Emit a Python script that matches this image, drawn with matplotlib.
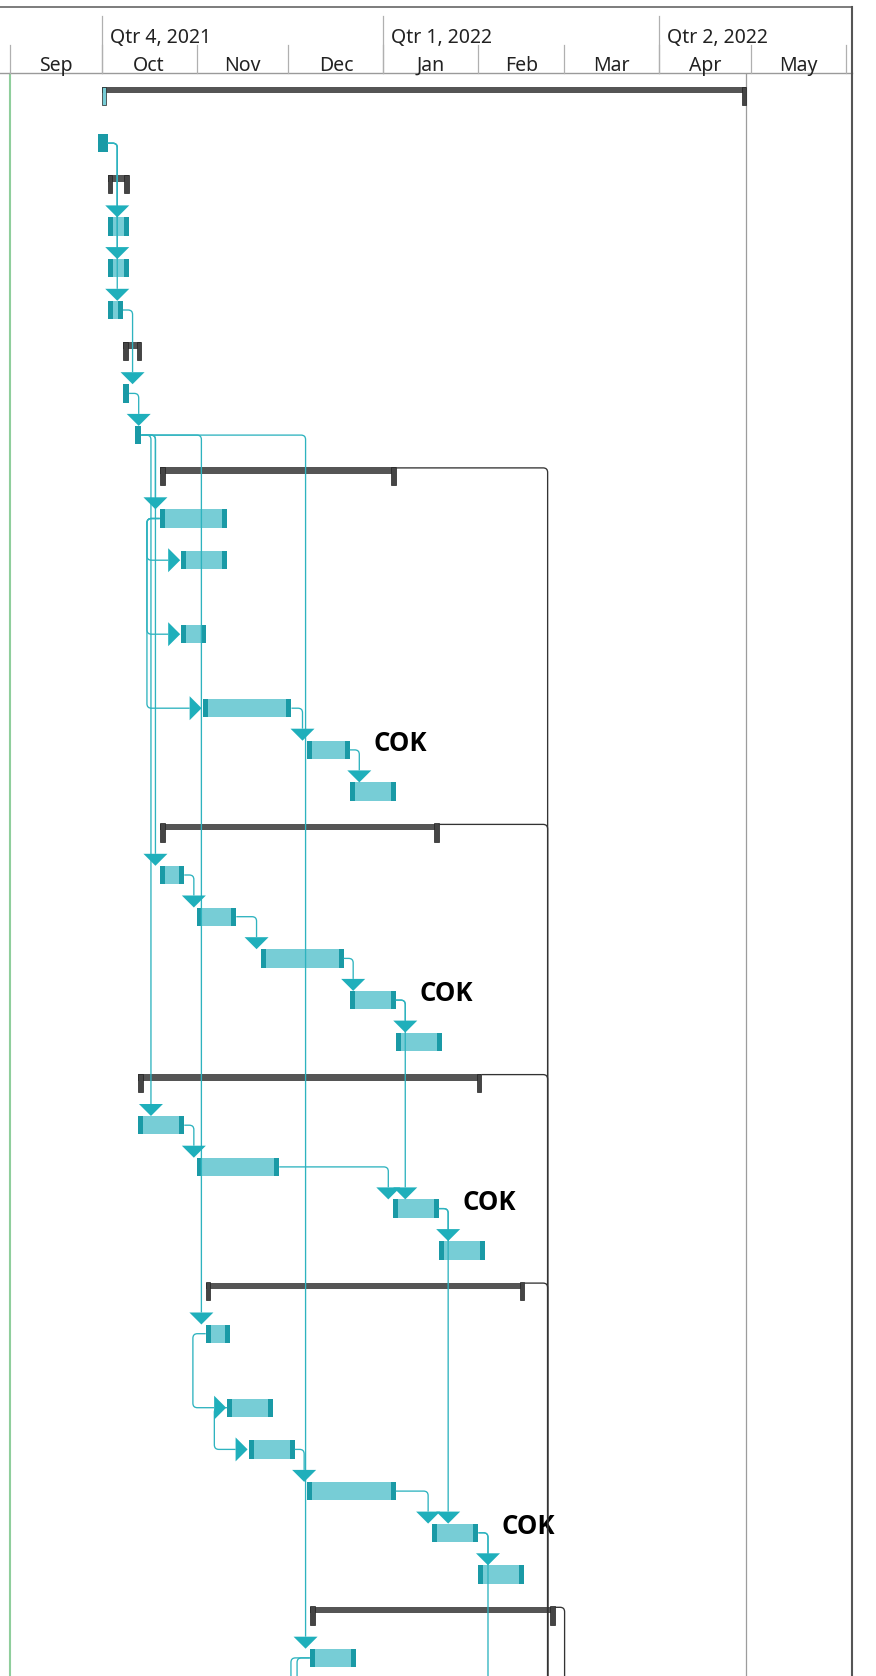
import matplotlib
matplotlib.use("Agg")
import matplotlib.pyplot as plt
import matplotlib.dates as mdates
from matplotlib.patches import Rectangle, Polygon, PathPatch
from matplotlib.path import Path
import numpy as np
import pandas as pd

plt.rcParams['font.family'] = ['Noto Sans', 'DejaVu Sans']

# ---- timescale ----
quarter_labels = ["Qtr 4, 2021", "Qtr 1, 2022", "Qtr 2, 2022"]
quarter_starts = ["2021-10-01", "2022-01-01", "2022-04-01"]
month_labels = ["Sep", "Oct", "Nov", "Dec", "Jan", "Feb", "Mar", "Apr", "May"]
month_starts = ["2021-09-01", "2021-10-01", "2021-11-01", "2021-12-01", "2022-01-01",
                "2022-02-01", "2022-03-01", "2022-04-01", "2022-05-01", "2022-06-01"]

# ---- tasks (S = summary, T = task), one per row ----
kinds = ["S", "T", "S", "T", "T", "T", "S", "T", "T",
         "S", "T", "T", "T", "T", "T", "T",
         "S", "T", "T", "T", "T", "T",
         "S", "T", "T", "T", "T",
         "S", "T", "T", "T", "T", "T", "T",
         "S", "T",
         "T", "T", "T", "T"]
starts = ["2021-10-01", "2021-09-30", "2021-10-03", "2021-10-03", "2021-10-03", "2021-10-03",
          "2021-10-08", "2021-10-08", "2021-10-12",
          "2021-10-20", "2021-10-20", "2021-10-27", "2021-10-27", "2021-11-03", "2021-12-07", "2021-12-21",
          "2021-10-20", "2021-10-20", "2021-11-01", "2021-11-22", "2021-12-21", "2022-01-05",
          "2021-10-13", "2021-10-13", "2021-11-01", "2022-01-04", "2022-01-19",
          "2021-11-04", "2021-11-04", "2021-11-11", "2021-11-18", "2021-12-07", "2022-01-17", "2022-02-01",
          "2021-12-08", "2021-12-08",
          "2021-12-06", "2021-12-08", "2022-02-01", "2022-02-25"]
finishes = ["2022-04-29 12:00", "2021-10-03", "2021-10-10", "2021-10-10", "2021-10-10", "2021-10-08",
            "2021-10-14", "2021-10-10", "2021-10-14",
            "2022-01-05", "2021-11-11", "2021-11-11", "2021-11-04", "2021-12-02", "2021-12-21", "2022-01-05",
            "2022-01-19", "2021-10-28", "2021-11-14", "2021-12-19", "2022-01-05", "2022-01-20",
            "2022-02-02", "2021-10-28", "2021-11-28", "2022-01-19", "2022-02-03",
            "2022-02-16", "2021-11-12", "2021-11-26", "2021-12-03", "2022-01-05", "2022-02-01", "2022-02-16",
            "2022-02-26", "2021-12-23",
            "2021-12-21", "2021-12-22", "2022-02-16", "2022-03-11"]
resources = {14: "COK", 20: "COK", 25: "COK", 32: "COK"}

# finish-to-start and start-to-start links (pred row, succ row)
fs_links = [(1, 3), (1, 4), (1, 5), (5, 7), (7, 8),
            (8, 10), (8, 17), (8, 23), (8, 28), (8, 35),
            (13, 14), (14, 15),
            (17, 18), (18, 19), (19, 20), (20, 21), (20, 25),
            (23, 24), (24, 25), (25, 26), (25, 32),
            (30, 31), (31, 32), (32, 33), (32, 38),
            (9, 39), (16, 39), (22, 39), (27, 39), (34, 39)]
ss_links = [(10, 11), (10, 12), (10, 13), (28, 29), (29, 30), (35, 36), (35, 37)]

status_date = "2021-09-01"
finish_line = "2022-04-29 12:00"

# ---- layout (pixels) ----
W, H = 876, 1676
PPD = 3.064  # pixels per day
row_h = [41.7] * len(kinds)
row_h[0] = 46.7
for r in (11, 12, 28):
    row_h[r] = 74
row_h[35] = 170
tops = 75.65 + np.concatenate([[0], np.cumsum(row_h)[:-1]])
yc = tops + 20.85

TEAL = "#77CDD6"
TEAL_D = "#1A9AA6"
LINK = "#2EB3BF"
ARROW = "#1FAFBB"


def dn(s):
    return mdates.date2num(pd.Timestamp(s))


def d(px):
    return px / PPD


S = [dn(s) for s in starts]
F = [dn(f) for f in finishes]
x0 = dn(month_starts[0]) - d(9.6)


def xpx(p):
    return x0 + d(p)


fig = plt.figure(figsize=(W / 100, H / 100), dpi=100)
ax = fig.add_axes([0, 0, 1, 1])
ax.set_xlim(x0, x0 + d(W))
ax.set_ylim(H, 0)
ax.axis("off")


def rounded(pts, color, r=4.5, lw=1.0, z=3):
    # pts in (date, px) coords; corners rounded in pixel space
    P = [np.array([(x - x0) * PPD, y]) for x, y in pts]
    clean = [P[0]]
    for p in P[1:]:
        if np.linalg.norm(p - clean[-1]) > 0.01:
            clean.append(p)
    verts, codes = [clean[0]], [Path.MOVETO]
    for i in range(1, len(clean) - 1):
        a, p, b = clean[i - 1], clean[i], clean[i + 1]
        u1 = (p - a) / np.linalg.norm(p - a)
        u2 = (b - p) / np.linalg.norm(b - p)
        rr = min(r, np.linalg.norm(p - a) / 2, np.linalg.norm(b - p) / 2)
        verts += [p - u1 * rr, p, p + u2 * rr]
        codes += [Path.LINETO, Path.CURVE3, Path.CURVE3]
    verts.append(clean[-1])
    codes.append(Path.LINETO)
    verts = [(x0 + v[0] / PPD, v[1]) for v in verts]
    ax.add_patch(PathPatch(Path(verts, codes), fill=False, ec=color, lw=lw, zorder=z,
                           capstyle="butt", joinstyle="round"))


# ---- header ----
ax.plot([xpx(0), xpx(852)], [7.5, 7.5], color="#666666", lw=1.2)
ax.plot([xpx(0), xpx(852)], [73, 73], color="#9a9a9a", lw=1.0)
ax.plot([xpx(852), xpx(852)], [7.5, H], color="#555555", lw=1.5, zorder=6)
for q, lab in zip(quarter_starts, quarter_labels):
    ax.plot([dn(q), dn(q)], [16, 73], color="#b0b0b0", lw=0.9)
    ax.text(dn(q) + d(8), 43.3, lab, fontsize=14, color="#222222", ha="left", va="baseline")
for m in month_starts:
    ax.plot([dn(m), dn(m)], [45, 73], color="#b0b0b0", lw=0.9)
for i, lab in enumerate(month_labels):
    mid = (dn(month_starts[i]) + dn(month_starts[i + 1])) / 2
    ax.text(mid, 70.7, lab, fontsize=14, color="#222222", ha="center", va="baseline")

ax.plot([dn(status_date)] * 2, [74, H], color="#8fce9c", lw=1.5, zorder=1)
ax.plot([dn(finish_line)] * 2, [74, H], color="#9c9c9c", lw=0.9, zorder=1)

# ---- bars ----
BH = 18.4
CW = 5.0
for i, k in enumerate(kinds):
    s, f, y = S[i], F[i], yc[i]
    if k == "T":
        ax.add_patch(Rectangle((s, y - BH / 2), f - s, BH, fc=TEAL, ec="none", zorder=2))
        ax.add_patch(Rectangle((s, y - BH / 2), d(CW), BH, fc=TEAL_D, ec="none", zorder=2))
        ax.add_patch(Rectangle((f - d(CW), y - BH / 2), d(CW), BH, fc=TEAL_D, ec="none", zorder=2))
    else:
        top = y - 9.4
        ax.add_patch(Rectangle((s, top), f - s, 6.4, fc="#555555", ec="none", zorder=2))
        lc = TEAL if i == 0 else "#454545"
        ax.add_patch(Rectangle((s, top - 0.5), d(4.8), 18.2, fc=lc, ec="#222222", lw=0.5, zorder=2))
        ax.add_patch(Rectangle((f - d(4.8), top - 0.5), d(4.8), 18.2, fc="#454545", ec="#222222",
                               lw=0.5, zorder=2))
    if i in resources:
        ax.text(f + d(23.5), y - 6.4, resources[i], fontsize=18.5, fontweight="bold",
                family=["Open Sans", "DejaVu Sans"], color="black", ha="left", va="center")

# ---- links ----
AW, AH = 12, 12
for p, s in fs_links:
    summ = kinds[p] == "S"
    yp = yc[p] - 8.9 if summ else yc[p]
    vx = max(F[p] + d(9.6), S[s] - d(4.3))
    ytip = yc[s] - BH / 2
    yb = ytip - AH
    col = "#333333" if summ else LINK
    rounded([(F[p], yp), (vx, yp), (vx, yb)], col, lw=0.95)
    if not summ:
        ax.add_patch(Polygon([(vx - d(AW), yb), (vx + d(AW), yb), (vx, ytip)],
                             closed=True, fc=ARROW, ec="none", zorder=4))

for p, s in ss_links:
    vx = min(S[p], S[s]) - d(12.8)
    xb = S[s] - d(AH + 1)
    rounded([(S[p], yc[p]), (vx, yc[p]), (vx, yc[s]), (xb, yc[s])], LINK, lw=0.95)
    ax.add_patch(Polygon([(xb, yc[s] - AW), (xb, yc[s] + AW), (S[s] - d(1), yc[s])],
                         closed=True, fc=ARROW, ec="none", zorder=4))

fig.savefig("out.png", dpi=100)
